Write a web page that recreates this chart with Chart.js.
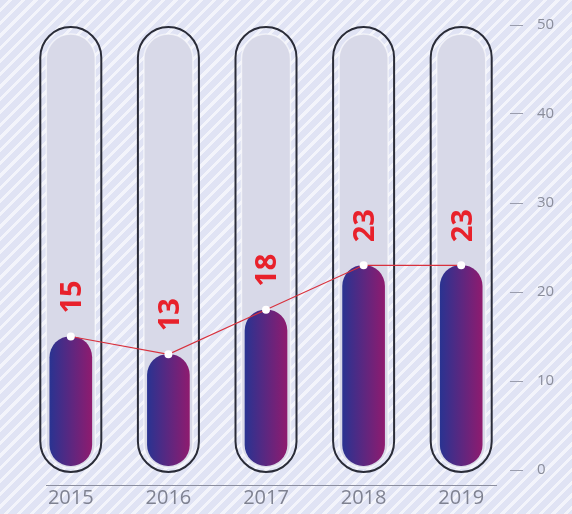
<!DOCTYPE html>
<html>
<head>
<meta charset="utf-8">
<script src="https://cdn.jsdelivr.net/npm/chart.js@4.4.1/dist/chart.umd.min.js"></script>
<style>
  html, body {
    margin: 0;
    padding: 0;
  }
  body {
    width: 572px;
    height: 514px;
    background: repeating-linear-gradient(135deg, #e0e3f4 0 6px, #f3f4fb 6px 9px);
  }
  .container {
    position: relative;
    width: 572px;
    height: 514px;
  }
</style>
</head>
<body>
<div class="container"><canvas id="tubes"></canvas></div>
<script>
const years = ["2015", "2016", "2017", "2018", "2019"];
const values = [15, 13, 18, 23, 23];
const yMin = 0;
const yMax = 50;
const yStep = 10;

const FONT = '"Open Sans", "DejaVu Sans", sans-serif';

// outlined glass tube + pale track behind every bar
const tubePlugin = {
  id: "tubes",
  beforeDatasetsDraw(chart) {
    const { ctx, scales } = chart;
    const top = scales.y.getPixelForValue(yMax);
    const bottom = scales.y.getPixelForValue(yMin);
    years.forEach((_, i) => {
      const cx = scales.x.getPixelForValue(i);

      // pale inner track
      ctx.save();
      ctx.beginPath();
      ctx.roundRect(cx - 24.5, top + 9, 49, bottom - top - 11, 24.5);
      ctx.fillStyle = "#d8d9e8";
      ctx.fill();
      ctx.lineWidth = 1.5;
      ctx.strokeStyle = "rgba(255,255,255,0.6)";
      ctx.stroke();
      ctx.restore();

      // dark outline
      ctx.save();
      ctx.beginPath();
      ctx.roundRect(cx - 30.5, top + 2, 61, bottom - top, 30.5);
      ctx.lineWidth = 2;
      ctx.strokeStyle = "#2a2c38";
      ctx.stroke();
      ctx.restore();
    });
  },
  afterDraw(chart) {
    // baseline under the tubes
    const { ctx, chartArea } = chart;
    const y = chartArea.bottom + 15.5;
    ctx.save();
    ctx.beginPath();
    ctx.moveTo(chartArea.left + 24, y);
    ctx.lineTo(chartArea.right - 13, y);
    ctx.lineWidth = 1;
    ctx.strokeStyle = "#8c8fa0";
    ctx.stroke();
    ctx.restore();
  },
};

// rotated red value labels above each point
const valueLabels = {
  id: "valueLabels",
  afterDatasetsDraw(chart) {
    const { ctx, scales } = chart;
    const size = 29;
    ctx.save();
    ctx.font = "bold " + size + "px " + FONT;
    ctx.fillStyle = "#e8212b";
    ctx.textAlign = "left";
    ctx.textBaseline = "alphabetic";
    values.forEach((v, i) => {
      const x = scales.x.getPixelForValue(i);
      const y = scales.y.getPixelForValue(v);
      ctx.save();
      ctx.translate(x, y - 23);
      ctx.rotate(-Math.PI / 2);
      ctx.fillText(String(v), 0, size * 0.36);
      ctx.restore();
    });
    ctx.restore();
  },
};

function barGradient(context) {
  const chart = context.chart;
  const x = chart.scales.x;
  if (!x || context.dataIndex === undefined) return "#5a2a85";
  const cx = x.getPixelForValue(context.dataIndex);
  if (!Number.isFinite(cx)) return "#5a2a85";
  const g = chart.ctx.createLinearGradient(cx - 21, 0, cx + 21, 0);
  g.addColorStop(0, "#2a3391");
  g.addColorStop(1, "#8e1b6f");
  return g;
}

new Chart(document.getElementById("tubes"), {
  data: {
    labels: years,
    datasets: [
      {
        type: "line",
        data: values,
        order: 0,
        borderColor: "#d8313d",
        borderWidth: 1.2,
        tension: 0,
        pointRadius: 4,
        pointBorderWidth: 0,
        pointBackgroundColor: "#ffffff",
      },
      {
        type: "bar",
        data: values,
        order: 1,
        base: 0.5,
        barThickness: 42,
        borderRadius: 21,
        borderSkipped: false,
        backgroundColor: barGradient,
      },
    ],
  },
  options: {
    responsive: true,
    maintainAspectRatio: false,
    animation: false,
    layout: {
      padding: { left: 22, top: 25, right: 0, bottom: 0 },
    },
    plugins: {
      legend: { display: false },
      tooltip: { enabled: false },
    },
    scales: {
      x: {
        grid: { display: false, drawTicks: false },
        border: { display: false },
        ticks: {
          color: "#7f8291",
          padding: 16,
          font: { family: FONT, size: 20 },
        },
        afterFit(scale) {
          scale.height = 44;
        },
      },
      y: {
        position: "right",
        min: yMin,
        max: yMax,
        border: { display: false },
        grid: {
          drawOnChartArea: false,
          drawTicks: true,
          tickLength: 13,
          color: "#9a9dad",
        },
        ticks: {
          stepSize: yStep,
          padding: 14,
          color: "#8a8d9b",
          font: { family: FONT, size: 15 },
        },
        afterFit(scale) {
          scale.width = 62;
        },
      },
    },
  },
  plugins: [tubePlugin, valueLabels],
});
</script>
</body>
</html>
